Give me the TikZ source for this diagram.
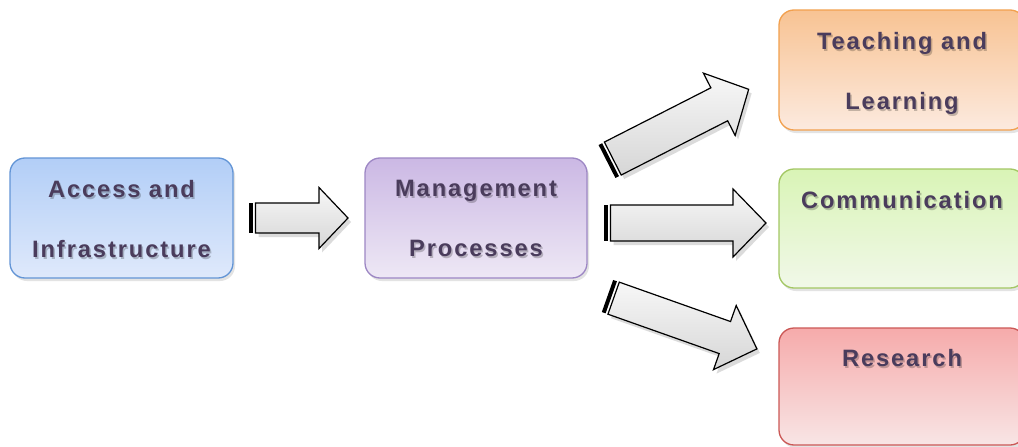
\documentclass[tikz,border=0pt]{standalone}
\usepackage{fontspec}
\newfontfamily\boxfont[LetterSpace=8.0]{Liberation Sans}
\usetikzlibrary{shadows}
\definecolor{txtc}{HTML}{4A3C5C}
\definecolor{accB}{HTML}{6395D6}\definecolor{accT}{HTML}{B2CEF7}\definecolor{accL}{HTML}{DFE9FB}
\definecolor{mgmB}{HTML}{9D87C4}\definecolor{mgmT}{HTML}{CBB8E4}\definecolor{mgmL}{HTML}{EEE8F5}
\definecolor{teaB}{HTML}{F2A04E}\definecolor{teaT}{HTML}{F8C393}\definecolor{teaL}{HTML}{FCEADF}
\definecolor{comB}{HTML}{A3C764}\definecolor{comT}{HTML}{D9F4B6}\definecolor{comL}{HTML}{F1F8E9}
\definecolor{resB}{HTML}{CB5856}\definecolor{resT}{HTML}{F6ABAB}\definecolor{resL}{HTML}{F8E5E5}
\begin{document}
\begin{tikzpicture}[x=1pt,y=1pt,
  box/.style n args={3}{rectangle, rounded corners=15pt, minimum height=120pt,
    draw=#1, line width=1.3pt, top color=#2, bottom color=#3,
    drop shadow={opacity=0.22, shadow xshift=2pt, shadow yshift=-3pt}},
  lbl/.style={inner sep=0pt, align=center, text=txtc, anchor=north,
    font={\boxfont\bfseries\fontsize{23.7}{60}\selectfont}},
  lblsh/.style={lbl, text=black, opacity=0.22},
  arrowbody/.style={draw=black, line width=1.2pt, line join=miter,
    top color=gray!6, bottom color=gray!32,
    drop shadow={opacity=0.28, shadow xshift=3pt, shadow yshift=-4pt}},
  pics/stripedarrow/.style n args={4}{code={
    \fill[black] (0,-#2) rectangle (4,#2);
    \draw[arrowbody] (6.5,-#2) -- ({#1-#4},-#2) -- ({#1-#4},-#3) -- (#1,0)
      -- ({#1-#4},#3) -- ({#1-#4},#2) -- (6.5,#2) -- cycle;
  }}]
\useasboundingbox[fill=white] (0,0) rectangle (1018,-447);

% boxes
\node[box={accB}{accT}{accL}, minimum width=223pt] (acc) at (121.5,-218) {};
\node[box={mgmB}{mgmT}{mgmL}, minimum width=222pt] (mgmt) at (476,-218) {};
\node[box={teaB}{teaT}{teaL}, minimum width=246pt] (teach) at (902,-70) {};
\node[box={comB}{comT}{comL}, minimum width=246pt, minimum height=119pt] (comm) at (902,-228.5) {};
\node[box={resB}{resT}{resL}, minimum width=246pt, minimum height=117pt] (res) at (902,-386.5) {};

% text shadows
\node[lblsh] (acc-s) at ([xshift=1.5pt,yshift=-25pt]acc.north) {Access and\\Infrastructure};
\node[lblsh] (mgmt-s) at ([xshift=1.5pt,yshift=-25pt]mgmt.north) {Management\\Processes};
\node[lblsh] (teach-s) at ([xshift=1.5pt,yshift=-25pt]teach.north) {Teaching and\\Learning};
\node[lblsh] (comm-s) at ([xshift=1.5pt,yshift=-25pt]comm.north) {Communication};
\node[lblsh] (res-s) at ([xshift=1.5pt,yshift=-24pt]res.north) {Research};

% texts
\node[lbl] (acc-t) at ([yshift=-23pt]acc.north) {Access and\\Infrastructure};
\node[lbl] (mgmt-t) at ([yshift=-23pt]mgmt.north) {Management\\Processes};
\node[lbl] (teach-t) at ([yshift=-23pt]teach.north) {Teaching and\\Learning};
\node[lbl] (comm-t) at ([yshift=-23pt]comm.north) {Communication};
\node[lbl] (res-t) at ([yshift=-22pt]res.north) {Research};

% block arrows
\coordinate (t1) at (249,-218);
\coordinate (t2) at (604,-223);
\coordinate (t3) at (607,-161.5);
\coordinate (t4) at (607.5,-296);
\pic at (t1) {stripedarrow={99}{15}{30.5}{29}};
\pic at (t2) {stripedarrow={162}{18}{34}{33}};
\pic[rotate=27] at (t3) {stripedarrow={159}{18.5}{35}{33}};
\pic[rotate=-19.5] at (t4) {stripedarrow={158.5}{17}{34}{34}};
\end{tikzpicture}
\end{document}
